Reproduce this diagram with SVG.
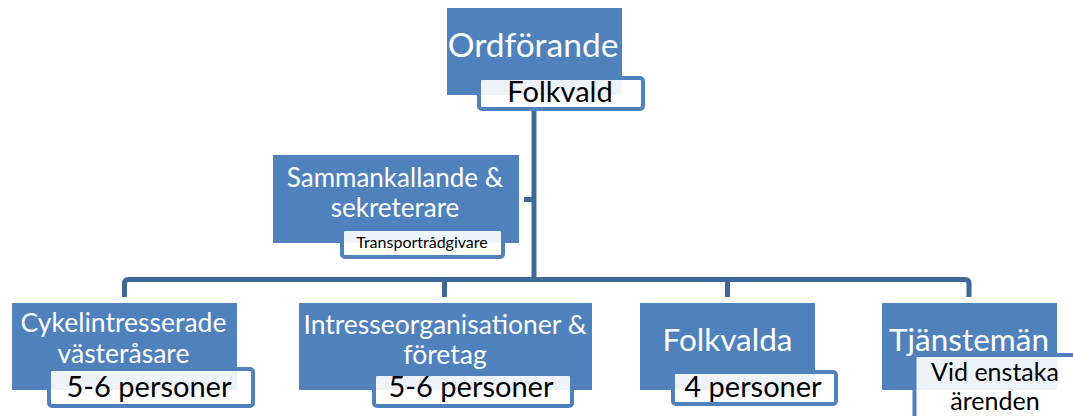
<svg xmlns="http://www.w3.org/2000/svg" width="1073" height="416" viewBox="0 0 1073 416">
<style>
.main{fill:#4f81bd}
.sub{fill:#fff;fill-opacity:0.9;stroke:#4f81bd;stroke-width:4}
.wt{fill:#fff;font-family:Lato,"Liberation Sans",sans-serif;text-anchor:middle}
.bt{fill:#000;font-family:Lato,"Liberation Sans",sans-serif;text-anchor:middle}
.ln{fill:none;stroke:#3f6899;stroke-width:5;stroke-linejoin:round}
</style>
<rect width="1073" height="416" fill="#fff"/>
<g id="connectors">
<path class="ln" d="M534 109 V279.5"/>
<path class="ln" d="M524 199.5 H534"/>
<path class="ln" d="M124.5 297 V283.5 Q124.5 279.5 128.5 279.5 H965 Q969 279.5 969 283.5 V297"/>
<path class="ln" d="M444.5 279.5 V297"/>
<path class="ln" d="M727.5 279.5 V297"/>
</g>
<g id="ordforande">
<rect class="main" x="447" y="8" width="175" height="87"/>
<text class="wt" x="533" y="57" font-size="33.5">Ordförande</text>
<rect class="sub" x="479" y="78" width="164" height="31" rx="3"/>
<text class="bt" x="560" y="102" font-size="29">Folkvald</text>
</g>
<g id="sammankallande">
<rect class="main" x="273" y="155" width="246" height="88"/>
<text class="wt" x="395" y="187" font-size="26">Sammankallande &amp;</text>
<text class="wt" x="395" y="217" font-size="26">sekreterare</text>
<rect class="sub" x="342" y="229" width="161" height="28" rx="3"/>
<text class="bt" x="422" y="248" font-size="16">Transportrådgivare</text>
</g>
<g id="cykel">
<rect class="main" x="12" y="303" width="225" height="87"/>
<text class="wt" x="123.5" y="332" font-size="26.5">Cykelintresserade</text>
<text class="wt" x="123.5" y="363" font-size="26.5">västeråsare</text>
<rect class="sub" x="49" y="369" width="204" height="37" rx="3"/>
<text class="bt" x="149" y="397" font-size="29">5-6 personer</text>
</g>
<g id="intresse">
<rect class="main" x="299" y="303" width="293" height="87"/>
<text class="wt" x="445" y="334" font-size="26.5">Intresseorganisationer &amp;</text>
<text class="wt" x="445" y="364" font-size="26.5">företag</text>
<rect class="sub" x="374" y="374" width="198" height="32" rx="3"/>
<text class="bt" x="471" y="397" font-size="29">5-6 personer</text>
</g>
<g id="folkvalda">
<rect class="main" x="640" y="303" width="175" height="87"/>
<text class="wt" x="727.5" y="351" font-size="31.5">Folkvalda</text>
<rect class="sub" x="673" y="372" width="163" height="32" rx="3"/>
<text class="bt" x="753" y="397" font-size="29">4 personer</text>
</g>
<g id="tjansteman">
<rect class="main" x="882" y="303" width="175" height="87"/>
<text class="wt" x="969" y="351" font-size="31.5">Tjänstemän</text>
<rect class="sub" x="914.5" y="355" width="165" height="80" rx="3"/>
<text class="bt" x="995" y="381" font-size="25">Vid enstaka</text>
<text class="bt" x="995" y="410" font-size="25">ärenden</text>
</g>
</svg>
